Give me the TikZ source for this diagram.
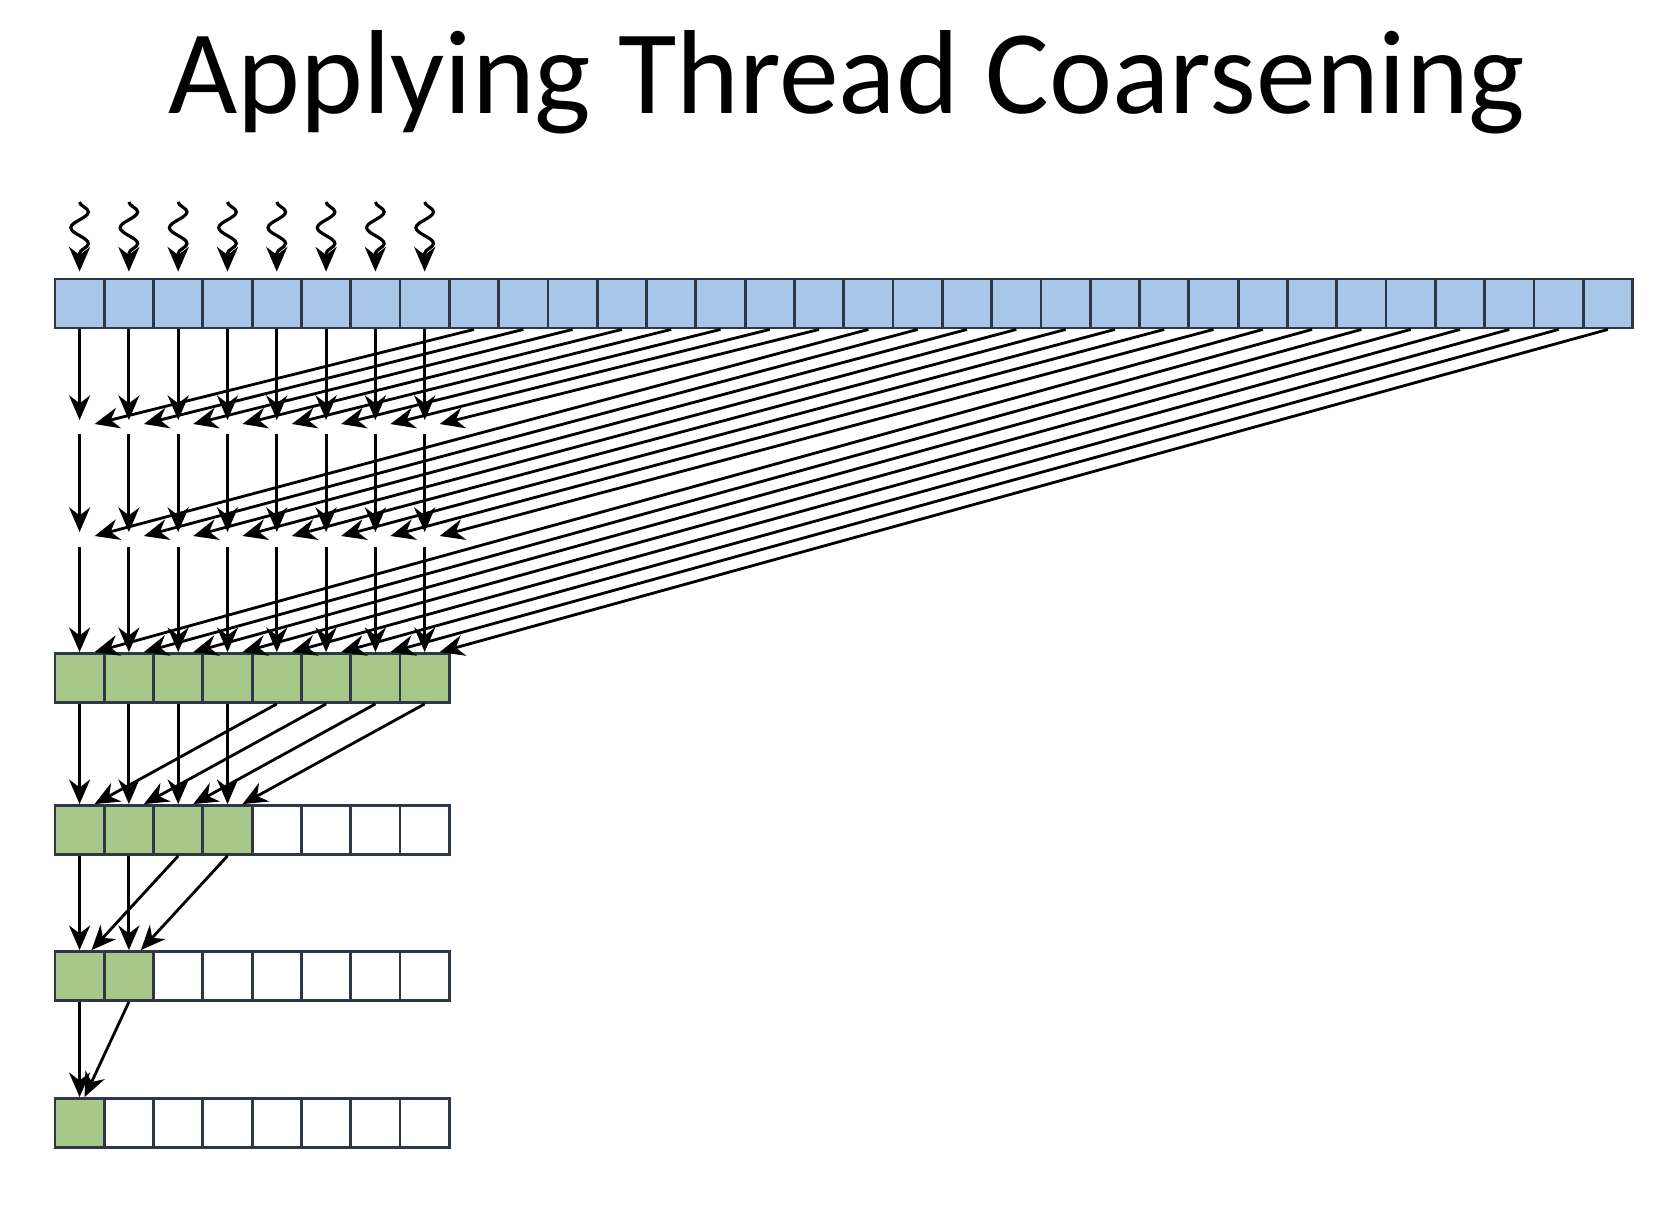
\documentclass[tikz,border=0pt]{standalone}
\usepackage{fontspec}
\setmainfont{Carlito}
\usetikzlibrary{arrows.meta,decorations.pathmorphing}
\definecolor{cellblue}{RGB}{168,198,232}
\definecolor{cellgreen}{RGB}{168,200,138}
\definecolor{celledge}{RGB}{45,55,70}
\tikzset{
  cell/.style={draw=celledge, line width=0.8pt, minimum width=0.493cm, minimum height=0.49cm, inner sep=0pt},
  flow/.style={line width=0.8pt, -{Stealth[length=7pt,width=6pt]}},
  thread/.style={line width=0.9pt, -{Stealth[length=7pt,width=6pt]}, decorate,
    decoration={snake, amplitude=2.5pt, segment length=9pt, post length=5pt}}
}
\begin{document}
\begin{tikzpicture}[x=0.01cm, y=0.01cm]
  \useasboundingbox (0,0) rectangle (1662,-1208);
  % Title
  \node (title) at (847,-82) {\fontsize{34}{40}\selectfont Applying Thread Coarsening};

  % Input row
  \foreach \i in {0,...,31}
    \node[cell, fill=cellblue] (b\i) at ({79.6+49.3*\i},-303.5) {};

  % Threads
  \foreach \j in {0,...,7} {
    \coordinate (t\j) at ({79.6+49.3*\j},-202);
    \draw[thread] (t\j) -- ([yshift=0.06cm]b\j.north);
  }

  % Intermediate points
  \foreach \j in {0,...,7} {
    \coordinate (a1\j) at ({79.6+49.3*\j},-420);
    \coordinate (s1\j) at ({79.6+49.3*\j},-434);
    \coordinate (d1\j) at ({94.6+49.3*\j},-424);
    \coordinate (a2\j) at ({79.6+49.3*\j},-532);
    \coordinate (s2\j) at ({79.6+49.3*\j},-547);
    \coordinate (d2\j) at ({94.6+49.3*\j},-536);
  }

  % Partial result rows
  \foreach \i in {0,...,7} {
    \node[cell, fill=cellgreen] (g\i) at ({79.6+49.3*\i},-678) {};
    \node[cell, fill=white] (r\i) at ({79.6+49.3*\i},-830) {};
    \node[cell, fill=white] (p\i) at ({79.6+49.3*\i},-976) {};
    \node[cell, fill=white] (q\i) at ({79.6+49.3*\i},-1123) {};
  }
  \foreach \i in {0,...,3}
    \node[cell, fill=cellgreen] at (r\i) {};
  \foreach \i in {0,1}
    \node[cell, fill=cellgreen] at (p\i) {};
  \node[cell, fill=cellgreen] at (q0) {};

  % Coarsened steps
  \foreach \j [evaluate=\j as \k using int(\j+8),
               evaluate=\j as \m using int(\j+16),
               evaluate=\j as \n using int(\j+24)] in {0,...,7} {
    \draw[flow] (b\j.south) -- (a1\j);
    \draw[flow] (b\k.south) -- (d1\j);
    \draw[flow] (s1\j) -- (a2\j);
    \draw[flow] (b\m.south) -- (d2\j);
    \draw[flow] (s2\j) -- (g\j.north);
    \draw[flow] (b\n.south) -- ([xshift=0.15cm]g\j.north);
  }

  % Tree reduction
  \foreach \j [evaluate=\j as \k using int(\j+4)] in {0,...,3} {
    \draw[flow] (g\j.south) -- (r\j.north);
    \draw[flow] (g\k.south) -- ([xshift=0.15cm]r\j.north);
  }
  \foreach \j [evaluate=\j as \k using int(\j+2)] in {0,1} {
    \draw[flow] (r\j.south) -- (p\j.north);
    \draw[flow] (r\k.south) -- ([xshift=0.12cm]p\j.north);
  }
  \draw[flow] (p0.south) -- (q0.north);
  \draw[flow] (p1.south) -- ([xshift=0.05cm]q0.north);
\end{tikzpicture}
\end{document}
